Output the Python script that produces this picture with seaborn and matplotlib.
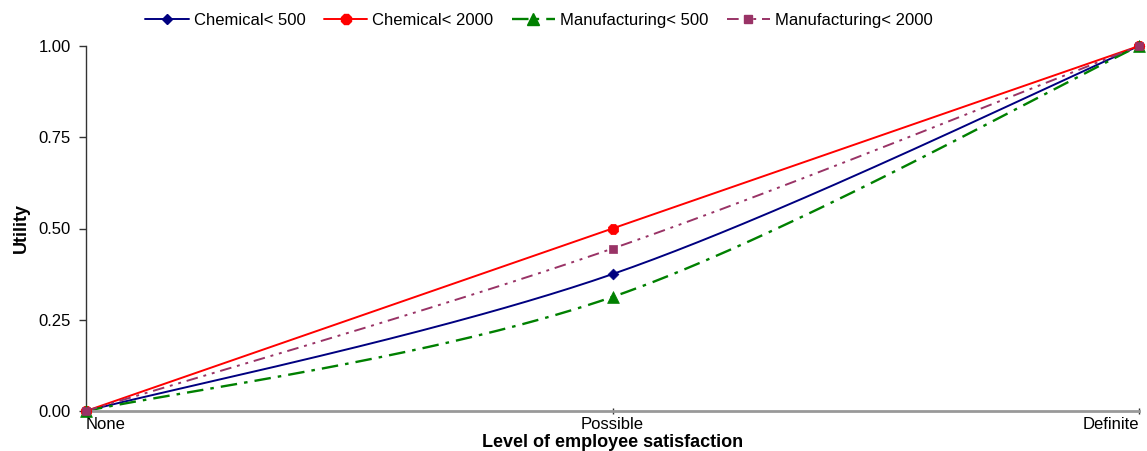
import numpy as np
import pandas as pd
import matplotlib
matplotlib.use("Agg")
import matplotlib.pyplot as plt
from matplotlib.lines import Line2D
import seaborn as sns

# Satisfaction levels and utility per segment
levels = ["None", "Possible", "Definite"]
chem_500 = [0.00, 0.375, 1.00]
chem_2000 = [0.00, 0.50, 1.00]
manu_500 = [0.00, 0.3125, 1.00]
manu_2000 = [0.00, 0.445, 1.00]
series_names = ["Chemical< 500", "Chemical< 2000", "Manufacturing< 500", "Manufacturing< 2000"]
series_values = [chem_500, chem_2000, manu_500, manu_2000]
y_ticks = [0.00, 0.25, 0.50, 0.75, 1.00]

styles = {
    "Chemical< 500": dict(color="#000080", marker="D", ms=5.5, lw=1.4, dashes=None),
    "Chemical< 2000": dict(color="#FF0000", marker="8", ms=8, lw=1.4, dashes=None),
    "Manufacturing< 500": dict(color="#008000", marker="^", ms=8.5, lw=1.7, dashes=(7, 3, 1.5, 3)),
    "Manufacturing< 2000": dict(color="#993366", marker="s", ms=6, lw=1.4, dashes=(6, 3, 1.5, 3, 1.5, 3)),
}

sns.set_theme(style="white")
plt.rcParams["font.family"] = ["Liberation Sans", "DejaVu Sans"]
plt.rcParams["text.color"] = "black"
plt.rcParams["axes.labelcolor"] = "black"
plt.rcParams["xtick.color"] = "black"
plt.rcParams["ytick.color"] = "black"

fig = plt.figure(figsize=(11.47, 4.51), dpi=100)
ax = fig.add_axes([86 / 1147, 1 - 411 / 451, (1139 - 86) / 1147, (411 - 46) / 451])

rows = []
for name, vals in zip(series_names, series_values):
    for i, v in enumerate(vals):
        rows.append({"series": name, "pos": i, "utility": v})
df = pd.DataFrame(rows)


def smooth_curve(xs, ys, n=80):
    """Cubic Bezier smoothing through the points (Catmull-Rom style tangents)."""
    P = np.column_stack([xs, ys]).astype(float)
    ext = np.vstack([P[0], P, P[-1]])
    out = []
    for i in range(len(P) - 1):
        p0, p3 = P[i], P[i + 1]
        c1 = p0 + (ext[i + 2] - ext[i]) / 6.0
        c2 = p3 - (ext[i + 3] - ext[i + 1]) / 6.0
        t = np.linspace(0, 1, n)[:, None]
        seg = ((1 - t) ** 3) * p0 + 3 * ((1 - t) ** 2) * t * c1 + 3 * (1 - t) * t ** 2 * c2 + t ** 3 * p3
        out.append(seg if i == 0 else seg[1:])
    return np.vstack(out)


handles = []
for name in series_names:
    st = styles[name]
    sub = df[df["series"] == name]
    curve = smooth_curve(sub["pos"].values, sub["utility"].values)
    line, = ax.plot(curve[:, 0], curve[:, 1], color=st["color"], lw=st["lw"],
                    solid_capstyle="butt", zorder=2, clip_on=False)
    if st["dashes"]:
        line.set_dashes(st["dashes"])
    h = Line2D([], [], color=st["color"], lw=st["lw"], marker=st["marker"],
               markersize=st["ms"], markeredgecolor=st["color"])
    if st["dashes"]:
        h.set_dashes(st["dashes"])
    handles.append(h)

for name in series_names:
    st = styles[name]
    sub = df[df["series"] == name]
    sns.scatterplot(data=sub, x="pos", y="utility", ax=ax, marker=st["marker"],
                    color=st["color"], edgecolor=st["color"], s=st["ms"] ** 2,
                    linewidth=0.5, zorder=3, clip_on=False, legend=False)

ax.set_xlim(0, 2)
ax.set_ylim(0, 1)
ax.set_xticks(range(len(levels)))
ax.set_xticklabels(levels, fontsize=12)
ax.set_yticks(y_ticks)
ax.set_yticklabels([f"{v:.2f}" for v in y_ticks], fontsize=12)
ax.set_xlabel("Level of employee satisfaction", fontsize=13, fontweight="bold", labelpad=1)
ax.set_ylabel("Utility", fontsize=13, fontweight="bold", labelpad=6)

for s in ["top", "right"]:
    ax.spines[s].set_visible(False)
ax.spines["left"].set_color("#333333")
ax.spines["left"].set_linewidth(1.0)
ax.spines["bottom"].set_color("#999999")
ax.spines["bottom"].set_linewidth(2.0)
ax.tick_params(axis="y", which="major", direction="out", length=5, width=1,
               color="#333333", pad=6, left=True)
ax.tick_params(axis="x", which="major", direction="inout", length=5, width=1,
               color="#333333", pad=2, bottom=True)
xl = ax.get_xticklabels()
xl[0].set_horizontalalignment("left")
xl[-1].set_horizontalalignment("right")

fig.legend(handles, series_names, loc="upper center", bbox_to_anchor=(0.47, 1.005),
           ncol=4, frameon=False, fontsize=12, handlelength=2.6, handletextpad=0.3,
           columnspacing=1.1)

fig.savefig("out.png", dpi=100)
